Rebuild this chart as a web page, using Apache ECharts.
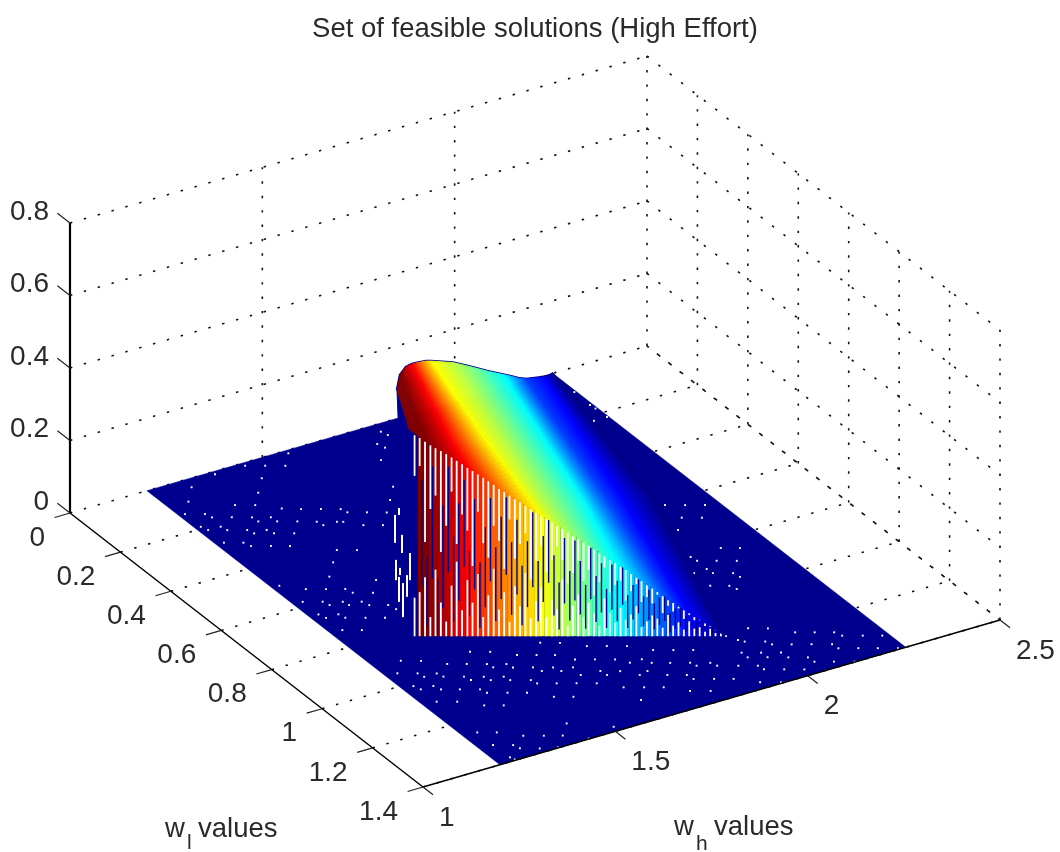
<!DOCTYPE html>
<html><head><meta charset="utf-8">
<script src="https://cdn.jsdelivr.net/npm/echarts@6/dist/echarts.min.js"></script>
<style>html,body{margin:0;padding:0;background:#fff}#c{width:1060px;height:852px;filter:blur(0.55px)}</style>
</head><body><div id="c"></div>
<script>
// ---------- axis ticks ----------
const whTicks=[1,1.5,2,2.5];
const wlTicks=[0,0.2,0.4,0.6,0.8,1,1.2,1.4];
const zTicks=[0,0.2,0.4,0.6,0.8];
const whLabels=['1','1.5','2','2.5'];
const wlLabels=['0','0.2','0.4','0.6','0.8','1','1.2','1.4'];
const zLabels=['0','0.2','0.4','0.6','0.8'];
// ---------- flat sheet extent ----------
const floorWh=[1.2,2.255];
const floorWl=[0,1.4];
// ---------- raised surface: contours of equal height, each read at back / middle / front ----------
const isoZ=[0,.03,.0675,.10,.135,.17,.2025,.235,.27,.3025,.3375,.37,.405,.44,.4725,.505,.54,.57];
const isoBackWh=[2.2567,2.2147,2.1678,2.1020,2.0583,2.0171,1.9787,1.9282,1.8760,1.8248,1.7560,1.7177,1.6749,1.6320,1.5932,1.5458,1.4840,1.4152];
const isoBackWl=[0,.0466,.0945,.1274,.1623,.1935,.2241,.2378,.2499,.2606,.2785,.3170,.3625,.4081,.4513,.4998,.5704,.6635];
const isoMidWh=[2.1413,2.0846,2.0192,1.9621,1.9121,1.8661,1.8240,1.7707,1.7113,1.6561,1.6654,1.6208,1.5736,1.5256,1.4798,1.4769,1.4232,1.3881];
const isoMidWl=[.5828,.6061,.6384,.6660,.7026,.7411,.7774,.8073,.8383,.8672,.6306,.6655,.7034,.7409,.7751,.6804,.7147,.7247];
const isoFrontWh=[1.9402,1.9118,1.8702,1.8361,1.8020,1.7679,1.7338,1.6997,1.6637,1.6268,1.5899,1.5539,1.5179,1.4820,1.4479,1.4130,1.3721,1.3418];
const isoFrontWl=[1.1634,1.1472,1.1235,1.1041,1.0847,1.0653,1.0460,1.0266,1.0061,.9851,.9641,.9436,.9232,.9027,.8833,.8635,.8402,.8230];
const shellWh=[1.853,1.4152,1.3418,1.36];
const shellWl=[0,.6635,.8230,.834];
const shellZ=[0,.57,.57,0];
// ---------- front wall: columns along the feasibility edge ----------
const wallWh=[1.35,1.36,1.37,1.38,1.39,1.40,1.41,1.42,1.43,1.44,1.45,1.46,1.47,1.48,1.49,1.50,1.51,1.52,1.53,1.54,1.55,1.56,1.57,1.58,1.59,1.60,1.61,1.62,1.63,1.64,1.65,1.66,1.67,1.68,1.69,1.70,1.71,1.72,1.73,1.74,1.75,1.76,1.77,1.78,1.79,1.80,1.81,1.82,1.83,1.84,1.85,1.86,1.87,1.88,1.89,1.90,1.91,1.92,1.93,1.94];
const wallWl=[.829,.834,.840,.846,.851,.857,.863,.869,.874,.880,.886,.891,.897,.903,.908,.914,.920,.925,.931,.937,.942,.948,.954,.960,.965,.971,.977,.982,.988,.994,.999,1.005,1.011,1.016,1.022,1.028,1.033,1.039,1.045,1.051,1.056,1.062,1.068,1.073,1.079,1.085,1.090,1.096,1.102,1.107,1.113,1.119,1.125,1.130,1.136,1.142,1.147,1.153,1.159,1.164];
const wallZ=[.560,.552,.542,.532,.524,.516,.508,.499,.489,.480,.470,.461,.452,.443,.433,.423,.412,.403,.393,.383,.374,.364,.356,.346,.337,.328,.319,.309,.301,.291,.281,.273,.263,.254,.244,.234,.225,.215,.207,.197,.188,.177,.167,.157,.146,.137,.127,.116,.105,.097,.087,.077,.069,.058,.050,.041,.032,.022,.014,.003];
const wallGapLow=[19,22,30,10,35,18,8,28,42,15,33,20,38,12,26,44,18,30,10,36,22,48,14,28,40,16,32,24,52,10,30,42,20,36,26,12,46,30,18,40,24,34,50,16,28,42,38,20,56,30,44,24,60,36,50,30,64,40,55,45];
const wallGapHigh=[79,85,48,66,74,45,60,80,52,70,62,42,76,58,50,72,64,46,82,56,68,78,44,60,74,54,66,80,70,50,62,76,58,72,46,64,84,56,68,78,52,70,86,60,74,66,90,55,80,70,88,62,85,76,92,70,90,80,95,85];
const wallDarkLow=[10,25,5,30,0,15,35,8,20,40,12,28,5,18,35,10,25,42,15,30,8,22,38,12,28,45,18,6,30,15,35,22,8,40,16,28,10,34,20,44,12,26,38,18,30,14,24,36,10,20,30,16,26,12,22,18,10,14,8,6];
const wallDarkHigh=[60,78,40,88,30,70,92,55,75,90,50,82,45,68,88,58,80,95,66,84,52,72,96,60,82,98,70,48,90,62,94,76,54,96,68,86,58,92,74,98,60,80,94,70,88,66,84,96,62,78,90,72,86,68,82,76,70,74,66,60];
// stray white slivers left of the wall
const sliverWh=[1.3154,1.3229,1.3286,1.3172,1.3248,1.3305,1.3229,1.3381,1.3438];
const sliverWl=[.8079,.8122,.8154,.8090,.8133,.8165,.8122,.8208,.8240];
const sliverZ0=[.257,.334,.229,.154,.168,.052,.094,.108,.154];
const sliverZ1=[.334,.353,.279,.210,.188,.146,.163,.168,.229];
// ---------- pin-holes in the sheet ----------
const holeWh=[1.559,1.447,1.485,1.523,1.369,1.448,1.293,1.406,1.252,1.332,1.370,1.412,1.215,1.253,1.296,1.258,1.334,1.370,1.336,1.372,1.410,1.214,1.252,1.220,1.256,1.294,1.331,1.299,1.337,1.375,1.219,1.256,1.262,1.300,1.336,1.564,1.527,1.601,1.522,1.485,1.447,1.563,1.526,1.496,1.446,1.450,1.484,1.415,1.453,1.378,1.336,1.416,1.219,1.261,1.299,1.336,1.341,1.379,1.224,1.262,1.300,1.336,1.267,1.304,1.342,1.378,1.383,1.223,1.261,1.229,1.266,1.304,1.341,1.230,1.267,1.266,1.304,1.229,1.267,1.303,1.271,1.228,1.266,1.234,1.272,1.234,1.574,1.611,1.654,1.692,1.730,1.770,1.808,1.846,1.419,1.457,1.500,1.537,1.572,1.599,1.637,1.675,1.695,1.726,1.736,1.771,1.809,1.847,1.421,1.458,1.346,1.383,1.425,1.462,1.500,1.538,1.576,2.108,2.146,2.184,2.222,2.105,2.109,2.147,2.185,2.110,2.068,2.147,2.183,2.068,2.071,2.108,2.146,2.035,2.069,2.071,2.109,2.113,2.035,2.071,2.077,2.003,2.040,2.082,2.119,2.156,2.163,2.202,2.239,1.955,2.003,1.964,2.009,2.046,2.084,2.123,2.125,2.163,2.200,2.238,1.931,1.968,2.006,1.931,1.969,2.008,2.045,2.047,2.084,2.123,1.893,1.930,1.933,1.971,2.009,1.814,1.853,1.508,1.545,1.619,1.656,1.708,1.572,1.622,1.684,1.736,1.773,1.776,1.815,1.852,1.894,1.933,1.352,1.389,1.426,1.465,1.347,1.384,1.422,1.308,1.469,1.506,1.544,1.582,1.308,1.346,1.351,1.390,1.427,1.623,1.662,1.699,1.740,1.779,1.273,1.468,1.505,1.625,1.315,1.352,1.427,1.508,1.236,1.273,1.315,1.354,1.390,1.235,1.273,1.278,1.315,1.352,1.432,1.237,1.241,1.787,1.792,1.750,1.756,1.718,1.676,1.638,2.250,2.216,2.248,2.250,2.213,2.217,2.251,2.180];
const holeWl=[.013,.0125,.034,.056,.012,.077,.035,.127,.085,.148,.170,.211,.128,.149,.190,.169,.212,.232,.234,.254,.276,.192,.213,.212,.233,.254,.275,.274,.295,.317,.276,.297,.318,.339,.360,.317,.296,.339,.277,.255,.234,.382,.361,.327,.298,.318,.320,.425,.447,.467,.516,.579,.496,.537,.559,.579,.601,.623,.581,.602,.624,.644,.622,.643,.665,.685,.709,.645,.666,.666,.686,.708,.729,.729,.750,.906,.928,.949,.971,.992,.991,1.014,1.035,1.034,1.056,1.097,.989,1.011,1.052,1.073,1.095,1.138,1.160,1.181,.947,.969,1.010,1.031,1.051,1.089,1.110,1.132,1.160,1.160,1.184,1.204,1.225,1.247,1.011,1.032,.968,.989,1.030,1.052,1.073,1.095,1.116,.590,.611,.633,.654,.634,.655,.676,.698,.718,.766,.831,.852,.832,.853,.874,.896,.896,.894,.916,.938,.959,.960,.981,1.001,1.159,1.181,1.225,1.246,1.267,1.288,1.310,1.331,1.192,1.227,1.205,1.245,1.266,1.287,1.309,1.331,1.352,1.373,1.395,1.243,1.264,1.285,1.267,1.288,1.311,1.332,1.355,1.376,1.398,1.288,1.309,1.329,1.351,1.373,1.243,1.265,1.096,1.117,1.159,1.181,1.210,1.153,1.181,1.216,1.246,1.267,1.289,1.311,1.332,1.373,1.396,1.053,1.075,1.096,1.118,1.033,1.055,1.076,1.011,1.137,1.158,1.179,1.201,1.076,1.098,1.118,1.140,1.161,1.245,1.267,1.288,1.330,1.352,1.119,1.205,1.226,1.311,1.162,1.183,1.318,1.381,1.255,1.276,1.317,1.339,1.359,1.319,1.341,1.360,1.382,1.398,1.398,1.383,1.396,.032,.052,.074,.096,.138,.250,.296,.093,.155,.158,.177,.200,.221,.221,.329];

// ---------- fixed viewpoint of the box ----------
const ORIGIN=[70,513], WH_VEC=[577,-167], WL_VEC=[353,274], Z_SPAN=290;
function plane(wh,wl,z){
  const u=(wh-1)/1.5, v=wl/1.4, w=z/0.8;
  return [ORIGIN[0]+WH_VEC[0]*u+WL_VEC[0]*v, ORIGIN[1]+WH_VEC[1]*u+WL_VEC[1]*v-Z_SPAN*w];
}
const NAVY='#00008f', INK='#2a2a2a';
const FAMILY='"Liberation Sans", Arial, sans-serif';
const TICK_FONT='28px '+FAMILY;
function jet(f){
  f=Math.max(0,Math.min(1,f));
  const r=Math.min(1,Math.max(0,1.5-Math.abs(4*f-3)));
  const g=Math.min(1,Math.max(0,1.5-Math.abs(4*f-2)));
  const b=Math.min(1,Math.max(0,1.5-Math.abs(4*f-1)));
  return 'rgb('+Math.round(r*255)+','+Math.round(g*255)+','+Math.round(b*255)+')';
}
const zColor=z=>jet(z/0.54);

function seriesOf(build){
  return {type:'custom',coordinateSystem:'cartesian2d',data:[[0,0]],silent:true,clip:false,animation:false,
    renderItem:(p,api)=>({type:'group',children:build(c3=>api.coord(plane(c3[0],c3[1],c3[2])),api)})};
}
function seg(P,a,b,style){
  const A=P(a),B=P(b);
  return {type:'line',shape:{x1:A[0],y1:A[1],x2:B[0],y2:B[1]},style:Object.assign({fill:null},style)};
}
const DOT={stroke:'#111',lineWidth:1.6,lineDash:[2.4,12]};
function gridLines(P){
  const out=[];
  zTicks.forEach(z=>{
    out.push(seg(P,[1,0,z],[2.5,0,z],DOT));
    out.push(seg(P,[2.5,0,z],[2.5,1.4,z],DOT));
  });
  whTicks.forEach(w=>{
    if(w>1) out.push(seg(P,[w,0,0],[w,0,0.8],DOT));
    if(w>1) out.push(seg(P,[w,1.4,0],[w,0,0],DOT));
  });
  wlTicks.forEach(w=>{
    if(w>0) out.push(seg(P,[2.5,w,0],[2.5,w,0.8],DOT));
    if(w>0) out.push(seg(P,[1,w,0],[2.5,w,0],DOT));
  });
  return out;
}
function floorLayer(P){
  const pts=[[floorWh[0],floorWl[0],0],[floorWh[1],floorWl[0],0],[floorWh[1],floorWl[1],0],[floorWh[0],floorWl[1],0]].map(P);
  return [{type:'polygon',shape:{points:pts},style:{fill:NAVY,stroke:NAVY,lineWidth:0.5}}];
}
function holesLayer(P){
  return holeWh.map((w,i)=>{
    const c=P([w,holeWl[i],0]);
    return {type:'rect',shape:{x:c[0]-0.9,y:c[1]-0.9,width:1.9,height:1.9},style:{fill:'#fff'}};
  });
}
function wallLayer(P){
  const out=[];
  const rect=(xc,w,yA,yB,fill)=>({type:'rect',shape:{x:xc,y:Math.min(yA,yB),width:w,height:Math.abs(yB-yA)},style:{fill}});
  wallWh.forEach((w,i)=>{
    const l=wallWl[i], z=wallZ[i];
    const base=P([w,l,0]), top=P([w,l,z]);
    if(i>0) out.push(rect(base[0]-1,5.5,base[1],top[1],zColor(z)));
  });
  wallWh.forEach((w,i)=>{
    const l=wallWl[i], z=wallZ[i];
    const at=pc=>P([w,l,z*pc/100])[1], x=P([w,l,0])[0];
    out.push(rect(x+2.3,1.4,at(wallDarkLow[i]),at(wallDarkHigh[i]),NAVY));
    out.push(rect(x,1.8,at(0),at(wallGapLow[i]),'#fff'));
    out.push(rect(x,1.8,at(wallGapHigh[i]),at(100)+2,'#fff'));
  });
  sliverWh.forEach((w,i)=>{
    const a=P([w,sliverWl[i],sliverZ0[i]]), b=P([w,sliverWl[i],sliverZ1[i]]);
    out.push(rect(a[0]-1,2,a[1],b[1],'#fff'));
  });
  return out;
}
function surfaceLayer(P){
  const out=[];
  const shell=shellWh.map((w,i)=>P([w,shellWl[i],shellZ[i]]));
  out.push({type:'polygon',shape:{points:shell.slice(0,3)},style:{fill:NAVY,stroke:NAVY,lineWidth:1}});
  const rim=[];
  isoZ.forEach((z,i)=>rim.push(P([isoBackWh[i],isoBackWl[i],z])));
  out.push({type:'polyline',shape:{points:rim},style:{fill:null,stroke:NAVY,lineWidth:2.6}});
  const lerp=(a,b,t)=>a+(b-a)*t;
  const chain=(i,j,t)=>{
    const z=lerp(isoZ[i],isoZ[j],t);
    return [
      P([lerp(isoBackWh[i],isoBackWh[j],t),lerp(isoBackWl[i],isoBackWl[j],t),z]),
      P([lerp(isoMidWh[i],isoMidWh[j],t),lerp(isoMidWl[i],isoMidWl[j],t),z]),
      P([lerp(isoFrontWh[i],isoFrontWh[j],t),lerp(isoFrontWl[i],isoFrontWl[j],t),z])
    ];
  };
  const SUB=5;
  for(let i=0;i<isoZ.length-1;i++){
    for(let s=0;s<SUB;s++){
      const t0=s/SUB,t1=(s+1)/SUB;
      const a=chain(i,i+1,t0), b=chain(i,i+1,t1);
      const col=zColor(lerp(isoZ[i],isoZ[i+1],(t0+t1)/2));
      out.push({type:'polygon',shape:{points:[a[0],a[1],a[2],b[2],b[1],b[0]]},style:{fill:col,stroke:col,lineWidth:0.8}});
    }
  }
  return out;
}
function axesLayer(P){
  const out=[];
  const SOLID={stroke:'#000',lineWidth:1.5};
  const THIN={stroke:'#222',lineWidth:1.2};
  out.push(seg(P,[1,0,0],[1,0,0.8],{stroke:'#000',lineWidth:2.2}));
  out.push(seg(P,[1,0,0],[1,1.4,0],SOLID));
  out.push(seg(P,[1,1.4,0],[2.5,1.4,0],SOLID));
  zTicks.forEach((z,i)=>{
    out.push(seg(P,[1,0,z],[1,-0.05,z],THIN));
    const c=P([1,0,z]);
    out.push({type:'text',style:{text:zLabels[i],x:c[0]-21,y:c[1]-11,align:'right',verticalAlign:'middle',font:TICK_FONT,fill:INK}});
  });
  wlTicks.forEach((w,i)=>{
    out.push(seg(P,[1,w,0],[0.96,w,0],THIN));
    const c=P([1,w,0]);
    out.push({type:'text',style:{text:wlLabels[i],x:c[0]-25,y:c[1]+25,align:'right',verticalAlign:'middle',font:TICK_FONT,fill:INK}});
  });
  whTicks.forEach((w,i)=>{
    out.push(seg(P,[w,1.4,0],[w,1.44,0],THIN));
    const c=P([w,1.4,0]);
    out.push({type:'text',style:{text:whLabels[i],x:c[0]+16,y:c[1]+31,align:'left',verticalAlign:'middle',font:TICK_FONT,fill:INK}});
  });
  return out;
}
const AX=(x,y,text,size)=>({type:'text',silent:true,style:{text,x,y,font:size+'px '+FAMILY,fill:INK,textVerticalAlign:'middle'}});
const chart=echarts.init(document.getElementById('c'),null,{renderer:'canvas'});
chart.setOption({
  animation:false,
  backgroundColor:'#fff',
  title:{text:'Set of feasible solutions (High Effort)',left:530,top:10,textAlign:'center',
    textStyle:{fontFamily:FAMILY,fontSize:27.5,fontWeight:'normal',color:INK}},
  tooltip:{show:false},
  grid:{left:0,right:0,top:0,bottom:0},
  xAxis:{type:'value',min:0,max:1060,show:false},
  yAxis:{type:'value',min:0,max:852,inverse:true,show:false},
  series:[gridLines,floorLayer,holesLayer,wallLayer,surfaceLayer,axesLayer].map(seriesOf),
  graphic:[
    AX(165,829,'w',27.5),AX(187,843,'l',21),AX(198,829,'values',27.5),
    AX(674,827,'w',27.5),AX(696,844,'h',21),AX(714,827,'values',27.5)
  ]
});
</script></body></html>
